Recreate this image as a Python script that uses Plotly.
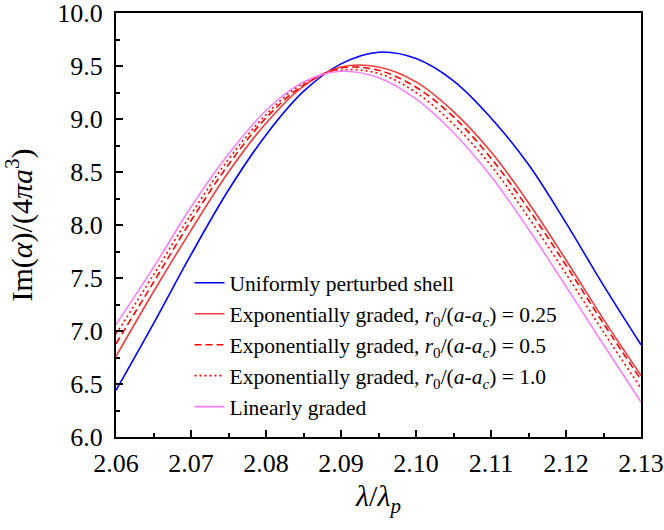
import plotly.graph_objects as go

x_vals = [2.060, 2.065, 2.070, 2.075, 2.080, 2.085, 2.090, 2.095,
          2.100, 2.105, 2.110, 2.115, 2.120, 2.125, 2.130]

uniform = [6.44, 7.07, 7.72, 8.33, 8.85, 9.26, 9.52, 9.63,
           9.57, 9.36, 9.01, 8.57, 8.02, 7.43, 6.87]
exp_025 = [6.76, 7.37, 7.95, 8.50, 8.96, 9.31, 9.49, 9.49,
           9.35, 9.07, 8.69, 8.21, 7.67, 7.11, 6.58]
exp_05 = [6.88, 7.46, 8.04, 8.57, 9.01, 9.32, 9.48, 9.46,
          9.30, 9.02, 8.63, 8.15, 7.62, 7.07, 6.54]
exp_10 = [6.97, 7.53, 8.10, 8.62, 9.04, 9.34, 9.46, 9.43,
          9.25, 8.95, 8.56, 8.07, 7.54, 6.99, 6.46]
linear = [7.06, 7.60, 8.17, 8.67, 9.08, 9.35, 9.45, 9.39,
          9.19, 8.87, 8.46, 7.96, 7.42, 6.87, 6.33]

x_ticks = [2.06, 2.07, 2.08, 2.09, 2.10, 2.11, 2.12, 2.13]
x_ticktext = ["2.06", "2.07", "2.08", "2.09", "2.10", "2.11", "2.12", "2.13"]
y_ticks = [6.0, 6.5, 7.0, 7.5, 8.0, 8.5, 9.0, 9.5, 10.0]
y_ticktext = ["6.0", "6.5", "7.0", "7.5", "8.0", "8.5", "9.0", "9.5", "10.0"]

names = [
    "Uniformly perturbed shell",
    "Exponentially graded, <i>r</i><sub>0</sub>/(<i>a</i>-<i>a</i><sub><i>c</i></sub>) = 0.25",
    "Exponentially graded, <i>r</i><sub>0</sub>/(<i>a</i>-<i>a</i><sub><i>c</i></sub>) = 0.5",
    "Exponentially graded, <i>r</i><sub>0</sub>/(<i>a</i>-<i>a</i><sub><i>c</i></sub>) = 1.0",
    "Linearly graded",
]
series = [uniform, exp_025, exp_05, exp_10, linear]
colors = ["#0000ff", "#f03c3c", "#ff0000", "#ff0000", "#ff80ff"]
dashes = ["solid", "solid", "7px,4px", "2px,3px", "solid"]

FONT = "Liberation Serif"

fig = go.Figure()
for n, s, c, d in zip(names, series, colors, dashes):
    fig.add_trace(go.Scatter(
        x=x_vals, y=s, mode="lines", name=n,
        line=dict(color=c, width=1.6, dash=d, shape="spline", smoothing=1.0),
    ))

fig.update_layout(
    width=664, height=530,
    margin=dict(l=116, r=23, t=13, b=93),
    paper_bgcolor="white", plot_bgcolor="white",
    font=dict(family=FONT, color="black"),
    showlegend=True,
    legend=dict(
        x=0.14, y=0.412, xanchor="left", yanchor="top",
        bgcolor="rgba(0,0,0,0)", borderwidth=0,
        font=dict(family=FONT, size=21.5, color="black"),
        tracegroupgap=0,
    ),
)

fig.update_xaxes(
    range=[2.06, 2.13], tickvals=x_ticks, ticktext=x_ticktext,
    ticks="inside", ticklen=7, tickwidth=2, tickcolor="black",
    minor=dict(ticks="inside", ticklen=4, tickwidth=2, tickcolor="black", dtick=0.005),
    showline=True, linewidth=2.2, linecolor="black", mirror=True,
    showgrid=False, zeroline=False, automargin=False,
    ticklabeloverflow="allow",
    tickfont=dict(family=FONT, size=26, color="black"),
    ticklabelstandoff=2,
    title=dict(text="<i>λ</i>/<i>λ</i><sub><i>p</i></sub>",
               font=dict(family=FONT, size=30, color="black"), standoff=8),
)
fig.update_yaxes(
    range=[6.0, 10.0], tickvals=y_ticks, ticktext=y_ticktext,
    ticks="inside", ticklen=7, tickwidth=2, tickcolor="black",
    minor=dict(ticks="inside", ticklen=4, tickwidth=2, tickcolor="black", dtick=0.25),
    showline=True, linewidth=2.2, linecolor="black", mirror=True,
    showgrid=False, zeroline=False, automargin=False,
    ticklabeloverflow="allow",
    tickfont=dict(family=FONT, size=26, color="black"),
    ticklabelstandoff=6,
    title=dict(text="Im(<i>α</i>)/(4<i>πa</i><sup>3</sup>)",
               font=dict(family=FONT, size=30, color="black"), standoff=16),
)

fig.write_html("out.html")
